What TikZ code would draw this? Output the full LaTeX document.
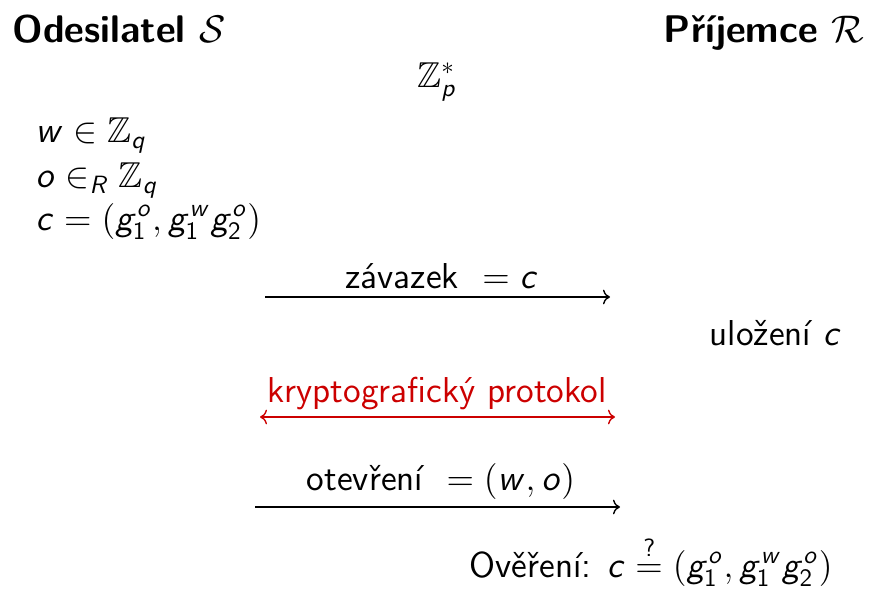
\RequirePackage{fix-cm}
\documentclass[tikz,border=0pt]{standalone}
\usepackage{amsmath,amssymb}
\usepackage{tikz}
\usetikzlibrary{arrows.meta, positioning}

% sans serif text and slanted sans math letters
\renewcommand{\familydefault}{\sfdefault}
\DeclareSymbolFont{sfletters}{OT1}{cmss}{m}{sl}
\DeclareSymbolFont{sfdigits}{OT1}{cmss}{m}{n}
\DeclareMathSymbol{c}{\mathalpha}{sfletters}{`c}
\DeclareMathSymbol{g}{\mathalpha}{sfletters}{`g}
\DeclareMathSymbol{o}{\mathalpha}{sfletters}{`o}
\DeclareMathSymbol{p}{\mathalpha}{sfletters}{`p}
\DeclareMathSymbol{q}{\mathalpha}{sfletters}{`q}
\DeclareMathSymbol{w}{\mathalpha}{sfletters}{`w}
\DeclareMathSymbol{R}{\mathalpha}{sfletters}{`R}
\DeclareMathSymbol{1}{\mathalpha}{sfdigits}{`1}
\DeclareMathSymbol{2}{\mathalpha}{sfdigits}{`2}
\definecolor{protored}{RGB}{204,0,0}

\begin{document}
\begin{tikzpicture}[
    x=0.4pt, y=-0.4pt,
    font=\fontsize{14.4}{17}\selectfont,
    party/.style={inner sep=0pt, font=\fontsize{15.4}{18}\selectfont\bfseries},
    term/.style={inner sep=0pt},
    msg/.style={inner sep=0pt, anchor=base},
    arrow/.style={line width=0.55pt,->},
    redarrow/.style={line width=0.55pt,<->,draw=protored},
]
    \useasboundingbox (0,0) rectangle (877,592);

    % Parties
    \node (sender) [party, anchor=base west] at (12,43) {Odesilatel $\mathcal{S}$};
    \node (receiver) [party, anchor=base east] at (865,43) {Příjemce $\mathcal{R}$};
    \node (group) [term, anchor=base] at (437,88) {$\mathbb{Z}_p^*$};

    % Sender's values
    \node (w_def) [term, anchor=base west] at (35,143) {$w \in \mathbb{Z}_q$};
    \node (o_def) [term, anchor=base west] at (35,188) {$o \in_R \mathbb{Z}_q$};
    \node (c_def) [term, anchor=base west] at (35,230) {$c = (g_1^o, g_1^w g_2^o)$};

    % Commit
    \coordinate (commit_from) at (265,297);
    \coordinate (commit_to) at (610,297);
    \node (commit_lbl) [msg] at (442,288) {závazek $\ = c$};
    \draw [arrow] (commit_from) -- (commit_to);
    \node (store) [term, anchor=base east] at (842,345) {uložení $c$};

    % Protocol
    \coordinate (proto_from) at (260,417);
    \coordinate (proto_to) at (615,417);
    \node (proto_lbl) [msg, text=protored] at (437,402) {kryptografický protokol};
    \draw [redarrow] (proto_from) -- (proto_to);

    % Opening
    \coordinate (open_from) at (255,507);
    \coordinate (open_to) at (620,507);
    \node (open_lbl) [msg] at (441,490) {otevření $\ = (w, o)$};
    \draw [arrow] (open_from) -- (open_to);
    \node (verify) [term, anchor=base east] at (833,577) {Ověření: $c \stackrel{\text{?}}{=} (g_1^o, g_1^w g_2^o)$};

\end{tikzpicture}
\end{document}
